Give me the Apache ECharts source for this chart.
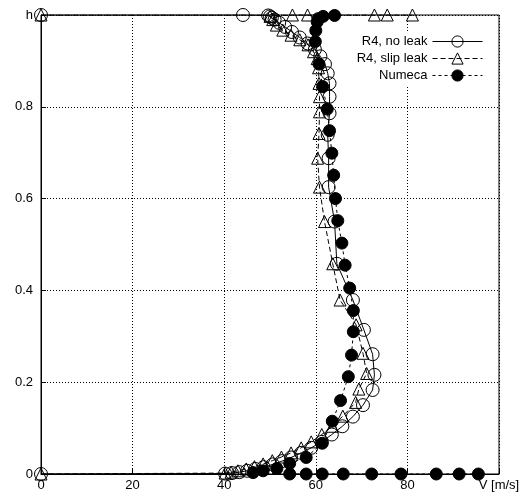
<!DOCTYPE html>
<html><head><meta charset="utf-8">
<script src="https://cdn.jsdelivr.net/npm/echarts@6/dist/echarts.min.js"></script>
<style>html,body{margin:0;padding:0;background:#fff}#c{width:523px;height:497px}</style>
</head><body><div id="c"></div>
<script>
// R4, no leak : [V, h]
const noLeak = [
 [0,1],[44.1,1.0],[49.6,0.999],[50.0,0.997],[50.4,0.994],[51.0,0.99],[52.0,0.983],[53.3,0.974],[54.8,0.963],
 [56.5,0.951],[58.2,0.938],[59.8,0.925],[61.0,0.91],[62.0,0.893],[62.6,0.873],[63.0,0.851],[63.0,0.822],
 [63.0,0.786],[62.6,0.739],[62.8,0.688],[62.8,0.625],[64.1,0.550],[64.6,0.458],[68.1,0.379],[70.5,0.314],
 [72.4,0.261],[72.8,0.216],[72.4,0.183],[70.3,0.150],[68.1,0.125],[65.8,0.104],[63.5,0.086],[61.3,0.07],
 [59.0,0.057],[56.8,0.046],[54.6,0.036],[52.6,0.028],[50.6,0.021],[48.6,0.015],[46.8,0.011],[45.0,0.007],
 [43.3,0.004],[41.7,0.002],[40.2,0.001],[0,0]
];
// R4, slip leak : [V, h]
const slipLeak = [
 [0,1],[81.1,1],[75.6,1],[72.8,1],[58.2,1],[54.9,1],[50.0,0.997],[50.6,0.99],[51.4,0.978],[52.8,0.967],
 [54.6,0.956],[56.5,0.946],[58.3,0.935],[59.5,0.92],[60.3,0.905],[60.6,0.885],[60.7,0.851],[60.8,0.822],
 [60.8,0.789],[60.7,0.742],[60.4,0.688],[60.8,0.625],[61.9,0.550],[63.7,0.458],[65.3,0.379],[68.8,0.325],
 [70.3,0.263],[71.1,0.219],[69.4,0.185],[68.7,0.156],[65.9,0.126],[63.6,0.104],[61.3,0.086],[59.0,0.07],
 [56.8,0.057],[54.6,0.046],[52.5,0.037],[50.5,0.029],[48.5,0.022],[46.6,0.016],[44.8,0.011],[43.0,0.007],
 [41.5,0.004],[40.2,0.002],[0,0]
];
// Numeca : [V, h]
const numeca = [
 [64.1,0.999],[61.6,0.997],[60.5,0.992],[60.3,0.985],[60.0,0.966],[59.9,0.942],[60.7,0.893],[61.5,0.844],
 [62.5,0.795],[63.0,0.748],[63.5,0.699],[63.9,0.651],[64.3,0.600],[64.8,0.552],[65.7,0.503],[66.4,0.455],
 [67.4,0.405],[68.2,0.356],[68.2,0.310],[67.8,0.259],[67.1,0.212],[65.4,0.160],[63.6,0.115],[61.4,0.067],
 [57.9,0.036],[54.3,0.023],[51.5,0.012],[48.5,0.007],[46.3,0.003],[54.3,0],[57.9,0],[61.4,0],[66.0,0],
 [72.2,0],[78.6,0],[86.3,0],[91.3,0],[95.5,0]
];
const xTicks = [0,20,40,60,80,100];
const xTickLabels = ['0','20','40','60','80','V [m/s]'];
const yTicks = [0,0.2,0.4,0.6,0.8,1];
const yTickLabels = ['0','0.2','0.4','0.6','0.8','h'];

const FONT = 'Liberation Sans, Arial, sans-serif';
const chart = echarts.init(document.getElementById('c'), null, {renderer:'canvas'});
const hollow = {color:'rgba(255,255,255,0)', borderColor:'#000', borderWidth:1};
chart.setOption({
  animation:false,
  backgroundColor:'#fff',
  grid:{left:41,right:24,top:15,bottom:23,show:true,borderColor:'#000',borderWidth:1,backgroundColor:'transparent'},
  xAxis:{type:'value',min:0,max:100,interval:20,
    axisLine:{show:true,lineStyle:{color:'#000',width:1}},
    axisTick:{show:true,inside:true,length:5,lineStyle:{color:'#000'}},
    splitLine:{show:true,lineStyle:{color:'#000',type:[1,2],width:1}},
    axisLabel:{color:'#000',fontFamily:FONT,fontSize:13,margin:5,
      formatter:v=>xTickLabels[xTicks.indexOf(v)]}},
  yAxis:{type:'value',min:0,max:1,interval:0.2,
    axisLine:{show:true,lineStyle:{color:'#000',width:1}},
    axisTick:{show:true,inside:true,length:5,lineStyle:{color:'#000'}},
    splitLine:{show:true,lineStyle:{color:'#000',type:[1,2],width:1}},
    axisLabel:{color:'#000',fontFamily:FONT,fontSize:13,margin:8,
      formatter:v=>yTickLabels[yTicks.findIndex(t=>Math.abs(t-v)<1e-9)]}},
  legend:{right:38,top:33,orient:'vertical',align:'right',itemGap:4,itemWidth:50,itemHeight:14,
    backgroundColor:'#fff',padding:[2,2,4,4],
    lineStyle:{width:1},
    itemStyle:{borderWidth:1},
    textStyle:{color:'#000',fontFamily:FONT,fontSize:13,padding:[0,0,0,0]},
    data:['R4, no leak','R4, slip leak','Numeca']},
  series:[
    {name:'R4, no leak',type:'line',data:noLeak,symbol:'circle',symbolSize:13,showAllSymbol:true,
      lineStyle:{color:'#000',width:1,type:'solid'},itemStyle:hollow,z:2},
    {name:'R4, slip leak',type:'line',data:slipLeak,symbol:'triangle',symbolSize:12,showAllSymbol:true,
      lineStyle:{color:'#000',width:1,type:[5,3]},itemStyle:hollow,z:3},
    {name:'Numeca',type:'line',data:numeca,symbol:'circle',symbolSize:12,showAllSymbol:true,
      lineStyle:{color:'#000',width:1,type:[3,3]},itemStyle:{color:'#000',borderColor:'#000'},z:4}
  ]
});
</script></body></html>
